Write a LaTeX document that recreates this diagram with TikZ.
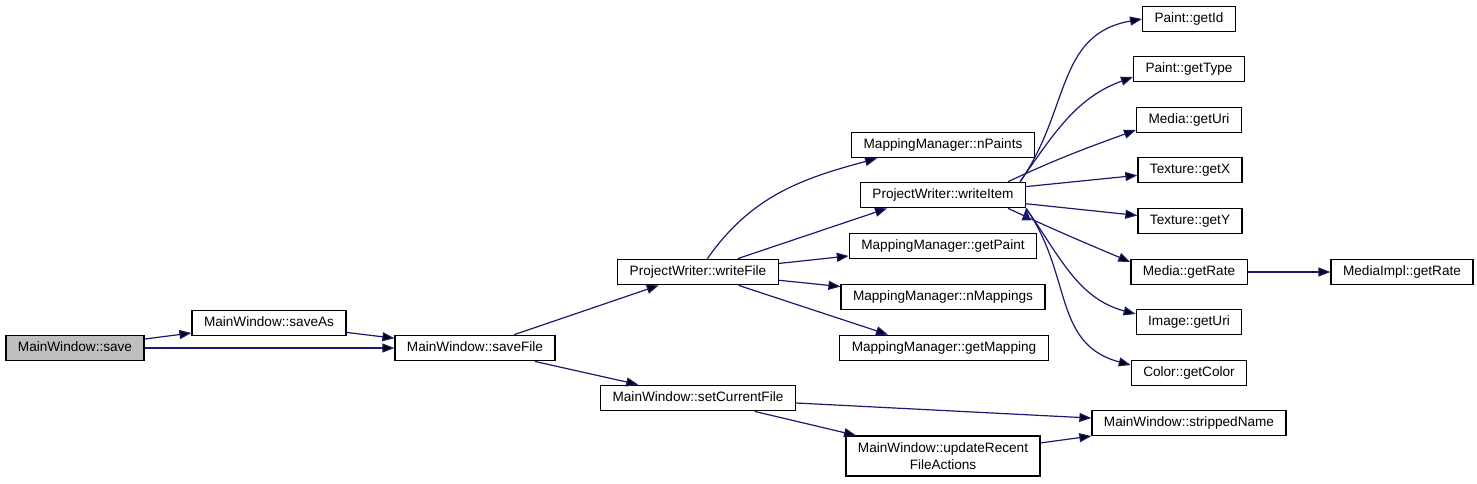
\documentclass[tikz,border=0pt]{standalone}
\usepackage{fontspec}
\setmainfont{Liberation Sans}
\usepackage{tikz}
\usetikzlibrary{arrows.meta}
\definecolor{edgeblue}{HTML}{191970}
\definecolor{rootgray}{HTML}{BFBFBF}

\begin{document}
\begin{tikzpicture}[x=0.5pt, y=0.5pt,
  fn/.style={draw=black, line width=0.6pt, fill=white, inner xsep=6pt, inner ysep=0pt,
    minimum height=12.8pt, text height=4.9pt, text depth=1.4pt,
    font=\fontsize{6.8}{8.5}\selectfont},
  fntwo/.style={fn, text height=, text depth=, minimum height=20pt, align=center},
  call/.style={draw=edgeblue, line width=0.6pt, -{Triangle[length=6pt,width=4.5pt]}}]
  \useasboundingbox (0,0) rectangle (1477,-483);

  \node[fn, fill=rootgray] (save) at (75,-348) {MainWindow::save};
  \node[fn] (saveAs) at (269,-323) {MainWindow::saveAs};
  \node[fn] (saveFile) at (475,-348) {MainWindow::saveFile};
  \node[fn] (writeFile) at (698,-272) {ProjectWriter::writeFile};
  \node[fn] (setCurrentFile) at (698,-398) {MainWindow::setCurrentFile};
  \node[fn] (nPaints) at (943,-145) {MappingManager::nPaints};
  \node[fn] (writeItem) at (943,-195) {ProjectWriter::writeItem};
  \node[fn] (getPaint) at (943,-246) {MappingManager::getPaint};
  \node[fn] (nMappings) at (943,-297) {MappingManager::nMappings};
  \node[fn] (getMapping) at (944,-348) {MappingManager::getMapping};
  \node[fntwo] (updateRecent) at (943,-456) {MainWindow::updateRecent\\FileActions};
  \node[fn] (paintId) at (1189,-19) {Paint::getId};
  \node[fn] (paintType) at (1189,-69) {Paint::getType};
  \node[fn] (mediaUri) at (1189,-120) {Media::getUri};
  \node[fn] (textureX) at (1190,-170) {Texture::getX};
  \node[fn] (textureY) at (1190,-221) {Texture::getY};
  \node[fn] (mediaRate) at (1189,-272) {Media::getRate};
  \node[fn] (imageUri) at (1189,-322) {Image::getUri};
  \node[fn] (colorGet) at (1189,-373) {Color::getColor};
  \node[fn] (strippedName) at (1189,-423) {MainWindow::strippedName};
  \node[fn] (implRate) at (1402,-272) {MediaImpl::getRate};

  % callers on the left
  \path[call]
  (save) edge (saveAs)
  (save) edge (saveFile)
  (saveAs) edge (saveFile)
  (saveFile) edge (writeFile)
  (saveFile) edge (setCurrentFile)
  ;
  % writeFile
  \path[call]
  (writeFile) edge[out=55, in=195] ([xshift=-33pt]nPaints.south)
  (writeFile) edge ([xshift=-28pt]writeItem.south)
  (writeFile) edge (getPaint)
  (writeFile) edge (nMappings)
  (writeFile) edge ([xshift=-28pt]getMapping.north)
  ;
  % writeItem
  \path[call]
  ([xshift=-3pt]writeItem.north east) edge[out=55, in=190, looseness=1.1] (paintId.west)
  ([xshift=-3pt]writeItem.north east) edge[out=55, in=200] ([yshift=-4pt]paintType.west)
  ([xshift=-9pt]writeItem.north east) edge[out=25, in=200] ([yshift=-5pt]mediaUri.west)
  (writeItem) edge (textureX)
  (writeItem) edge (textureY)
  ([xshift=-9pt]writeItem.south east) edge[out=-25, in=157] ([yshift=5pt]mediaRate.west)
  (writeItem.south east) edge[out=-55, in=165] ([yshift=4pt]imageUri.west)
  (writeItem.south east) edge[out=-55, in=165, looseness=1.1] ([yshift=4pt]colorGet.west)
  (mediaRate) edge (implRate)
  ;
  % setCurrentFile
  \path[call]
  (setCurrentFile) edge (strippedName)
  (setCurrentFile) edge (updateRecent)
  (updateRecent) edge (strippedName)
  ;
\end{tikzpicture}
\end{document}
